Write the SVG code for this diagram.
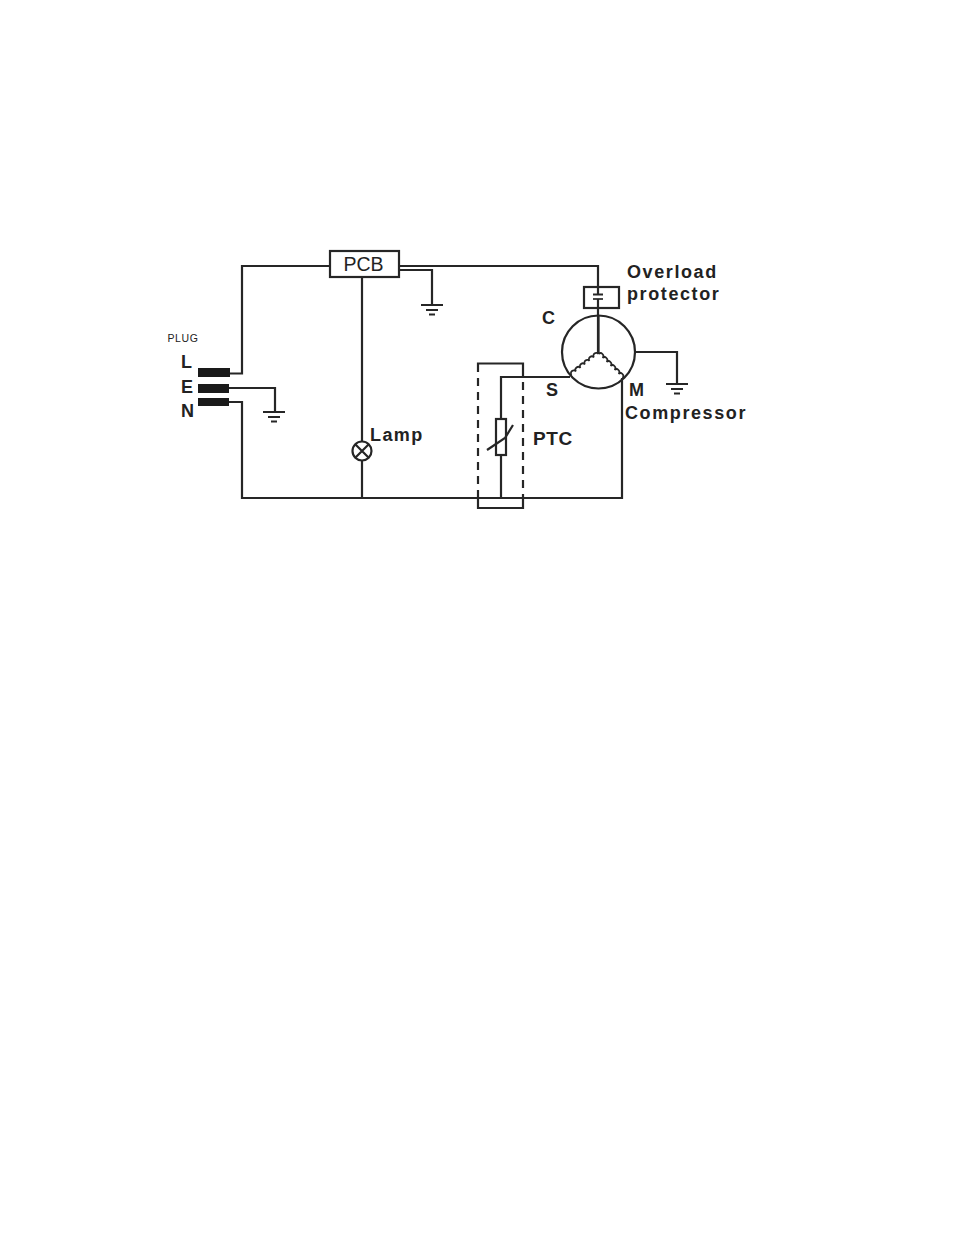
<svg xmlns="http://www.w3.org/2000/svg" width="954" height="1235" viewBox="0 0 954 1235">
<defs>
<style>
.w{fill:none;stroke:#262626;stroke-width:2.200;stroke-linejoin:miter}
.t{stroke-width:1.700}
.b{fill:#1a1a1a;stroke:none}
text{font-family:"Liberation Sans",Arial,sans-serif;fill:#222}
.l{font-weight:bold;font-size:18px;letter-spacing:1.600px}
.p{font-weight:bold;font-size:18px}
</style>
<g id="gnd"><path class="w" d="M-11 0H11M-6 5H6M-3 9.500H3"/></g>
</defs>
<rect width="954" height="1235" fill="#fff"/>
<g id="connectors">
<path class="w" d="M230 373.500H242V266H330"/>
<path class="w" d="M229 388H275V412"/>
<path class="w" d="M229 402H242V498H622V378"/>
<path class="w" d="M399 266H598V287M598 308V354"/>
<path class="w" d="M399 270H432V305"/>
<path class="w" d="M362 277V441M362 461V498"/>
<path class="w" d="M635 352H677V384"/>
<path class="w" d="M570 377H501V419M501 455V498"/>
</g>
<g id="plug">
<text x="167.500" y="341.500" style="font-size:10.500px;letter-spacing:.6px">PLUG</text>
<text x="181" y="367.500" class="p">L</text>
<text x="181" y="392.500" class="p">E</text>
<text x="181" y="416.500" class="p">N</text>
<rect class="b" x="198" y="368" width="32" height="9"/>
<rect class="b" x="198" y="384" width="31" height="9"/>
<rect class="b" x="198" y="398" width="31" height="8"/>
</g>
<g id="plug-ground"><use href="#gnd" x="274" y="412"/></g>
<g id="pcb">
<rect class="w" x="330" y="251" width="69" height="26" fill="#fff"/>
<text x="363.500" y="270.500" text-anchor="middle" style="font-size:19.500px">PCB</text>
</g>
<g id="pcb-ground"><use href="#gnd" x="432" y="305"/></g>
<g id="lamp">
<circle class="w" cx="362" cy="451" r="9.500" fill="#fff"/>
<path class="w" d="M355.500 444.500L368.500 457.500M368.500 444.500L355.500 457.500"/>
<text x="370" y="440.500" class="l" style="letter-spacing:1.400px">Lamp</text>
</g>
<g id="ptc">
<path class="w" d="M478 372V363.500H523V376M478 498V508H523V498"/>
<path class="w" stroke-dasharray="8 6" d="M478 378V497M523 382V497"/>
<rect class="w" x="496" y="419" width="10" height="36" fill="#fff"/>
<path class="w" d="M487 450L505 438L513 425"/>
<text x="533" y="445" class="p" style="font-size:19px;letter-spacing:.6px">PTC</text>
</g>
<g id="overload">
<rect class="w" x="584" y="287" width="35" height="21" fill="#fff"/>
<path class="w" d="M598 287V294M598 299V308M593 294.500H603"/>
<path class="w t" d="M593 299H603"/>
<text x="627" y="277.500" class="l">Overload</text>
<text x="627" y="299.500" class="l">protector</text>
</g>
<g id="compressor">
<circle class="w" cx="598.500" cy="352" r="36.500" fill="#fff"/>
<path class="w" d="M598.500 315V354"/>
<path class="w t" d="M598.500 354a2.800 2.800 0 0 0 -4.500 3.500a2.800 2.800 0 0 0 -4.500 3.500a2.800 2.800 0 0 0 -4.500 3.500a2.800 2.800 0 0 0 -4.500 3.500a2.800 2.800 0 0 0 -4.500 3.500a2.800 2.800 0 0 0 -4.500 3.500"/>
<path class="w t" d="M598.500 354a2.800 2.800 0 0 1 4 4a2.800 2.800 0 0 1 4 4a2.800 2.800 0 0 1 4 4a2.800 2.800 0 0 1 4 4a2.800 2.800 0 0 1 4 4a2.800 2.800 0 0 1 4 4"/>
<text x="542" y="323.500" class="p">C</text>
<text x="546" y="396" class="p">S</text>
<text x="629" y="395.500" class="p">M</text>
<text x="625" y="418.500" class="l">Compressor</text>
</g>
<g id="compressor-ground"><use href="#gnd" x="677" y="384"/></g>
</svg>
